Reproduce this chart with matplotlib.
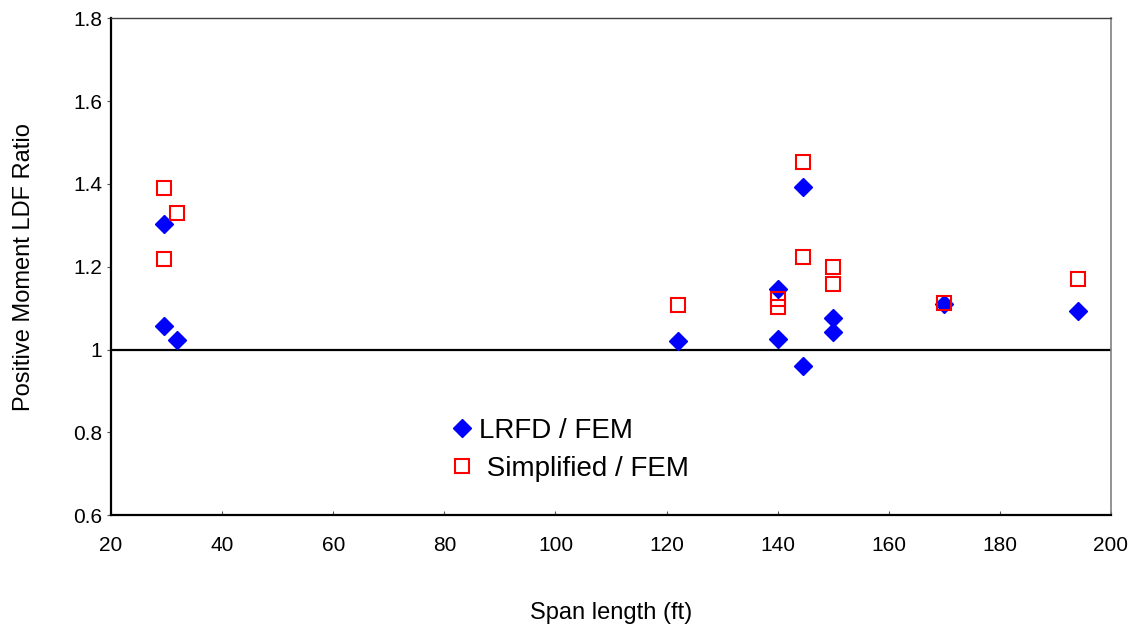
import matplotlib
matplotlib.use("Agg")
import matplotlib.pyplot as plt

plt.rcParams['font.family'] = ['Liberation Sans', 'DejaVu Sans']

# Span lengths (ft) and LDF ratios for each bridge case
lrfd_span = [29.5, 29.5, 31.9, 122, 140, 140, 144.5, 144.5, 150, 150, 170, 194]
lrfd_ratio = [1.303, 1.058, 1.023, 1.021, 1.146, 1.025, 1.392, 0.961, 1.077, 1.043, 1.110, 1.094]

simp_span = [29.5, 31.9, 29.5, 122, 140, 140, 144.5, 144.5, 150, 150, 170, 194]
simp_ratio = [1.390, 1.329, 1.218, 1.107, 1.122, 1.104, 1.454, 1.223, 1.200, 1.158, 1.112, 1.171]

x_ticks = [20, 40, 60, 80, 100, 120, 140, 160, 180, 200]
y_ticks = [0.6, 0.8, 1.0, 1.2, 1.4, 1.6, 1.8]
y_tick_labels = ['0.6', '0.8', '1', '1.2', '1.4', '1.6', '1.8']

fig = plt.figure(figsize=(11.4, 6.33), dpi=100)
ax = fig.add_axes([111 / 1140, 1 - 515.3 / 633, 1000 / 1140, 497 / 633])

# reference line at ratio = 1
ax.axhline(1.0, color='black', linewidth=1.6, zorder=1)

ax.plot(lrfd_span, lrfd_ratio, linestyle='none', marker='D', markersize=8.8,
        color='#0000FF', markeredgecolor='#0000FF', label='LRFD / FEM', zorder=3)
ax.plot(simp_span, simp_ratio, linestyle='none', marker='s', markersize=10,
        markerfacecolor='none', markeredgecolor='#FF0000', markeredgewidth=1.5,
        label=' Simplified / FEM', zorder=4)

ax.set_xlim(20, 200)
ax.set_ylim(0.6, 1.8)
ax.set_xticks(x_ticks)
ax.set_xticklabels([str(v) for v in x_ticks])
ax.set_yticks(y_ticks)
ax.set_yticklabels(y_tick_labels)

ax.tick_params(axis='x', direction='in', length=3, width=0.8, color='#555555',
               labelsize=15, pad=15)
ax.tick_params(axis='y', direction='out', length=3, width=0.8, color='#555555',
               labelsize=15, pad=3.5)

ax.spines['left'].set_linewidth(1.6)
ax.spines['bottom'].set_linewidth(1.6)
ax.spines['left'].set_color('black')
ax.spines['bottom'].set_color('black')
ax.spines['top'].set_color('#404040')
ax.spines['top'].set_linewidth(1.0)
ax.spines['right'].set_color('#808080')
ax.spines['right'].set_linewidth(1.2)

ax.set_xlabel('Span length (ft)', fontsize=17, labelpad=34)
ax.set_ylabel('Positive Moment LDF Ratio', fontsize=17, labelpad=27)

leg = ax.legend(loc='upper left', bbox_to_anchor=(451 / 1140, 1 - 418 / 633),
                bbox_transform=fig.transFigure, frameon=False, fontsize=20,
                handlelength=0.8, handletextpad=0.2, borderpad=0,
                borderaxespad=0, labelspacing=0.42, markerscale=1.0)

fig.savefig('out.png', dpi=100, facecolor='white')
